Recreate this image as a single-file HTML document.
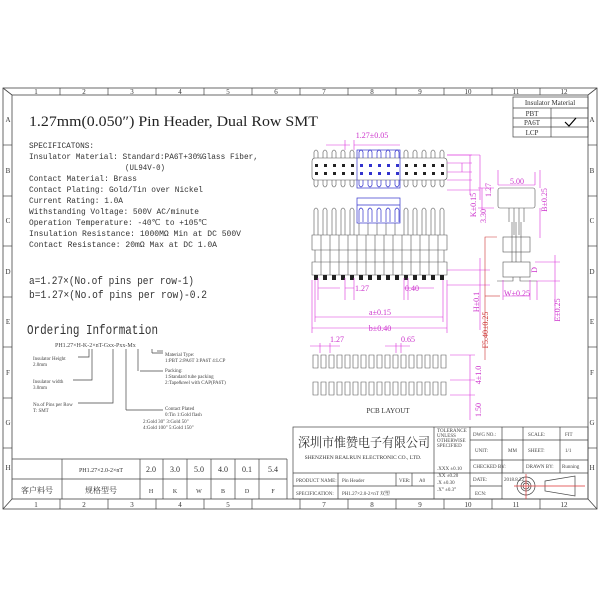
<!DOCTYPE html>
<html><head><meta charset="utf-8"><style>
html,body{margin:0;padding:0;background:#fff;}
svg{display:block;font-family:"Liberation Serif","Noto Serif CJK SC",serif;}
</style></head><body>
<svg width="600" height="600" viewBox="0 0 600 600" xmlns="http://www.w3.org/2000/svg">
<rect width="600" height="600" fill="#fff"/>
<g stroke="#444" fill="none" stroke-width="0.8">
<rect x="3" y="88" width="594" height="421"/>
<rect x="12" y="95" width="576" height="404"/>
<line x1="3" y1="88" x2="12" y2="95"/><line x1="597" y1="88" x2="588" y2="95"/>
<line x1="3" y1="509" x2="12" y2="499"/><line x1="597" y1="509" x2="588" y2="499"/>
</g>
<g stroke="#444" stroke-width="0.7">
<line x1="60" y1="88" x2="60" y2="95"/><line x1="108" y1="88" x2="108" y2="95"/><line x1="156" y1="88" x2="156" y2="95"/><line x1="204" y1="88" x2="204" y2="95"/><line x1="252" y1="88" x2="252" y2="95"/><line x1="300" y1="88" x2="300" y2="95"/><line x1="348" y1="88" x2="348" y2="95"/><line x1="396" y1="88" x2="396" y2="95"/><line x1="444" y1="88" x2="444" y2="95"/><line x1="492" y1="88" x2="492" y2="95"/><line x1="540" y1="88" x2="540" y2="95"/>
<line x1="60" y1="499" x2="60" y2="509"/><line x1="108" y1="499" x2="108" y2="509"/><line x1="156" y1="499" x2="156" y2="509"/><line x1="204" y1="499" x2="204" y2="509"/><line x1="252" y1="499" x2="252" y2="509"/><line x1="300" y1="499" x2="300" y2="509"/><line x1="348" y1="499" x2="348" y2="509"/><line x1="396" y1="499" x2="396" y2="509"/><line x1="444" y1="499" x2="444" y2="509"/><line x1="492" y1="499" x2="492" y2="509"/><line x1="540" y1="499" x2="540" y2="509"/>
<line x1="3" y1="145" x2="12" y2="145"/><line x1="3" y1="196" x2="12" y2="196"/><line x1="3" y1="246" x2="12" y2="246"/><line x1="3" y1="297" x2="12" y2="297"/><line x1="3" y1="347" x2="12" y2="347"/><line x1="3" y1="398" x2="12" y2="398"/><line x1="3" y1="448" x2="12" y2="448"/>
<line x1="588" y1="145" x2="597" y2="145"/><line x1="588" y1="196" x2="597" y2="196"/><line x1="588" y1="246" x2="597" y2="246"/><line x1="588" y1="297" x2="597" y2="297"/><line x1="588" y1="347" x2="597" y2="347"/><line x1="588" y1="398" x2="597" y2="398"/><line x1="588" y1="448" x2="597" y2="448"/>
</g>
<g font-size="7" fill="#333" text-anchor="middle">
<text x="36" y="94">1</text><text x="84" y="94">2</text><text x="132" y="94">3</text><text x="180" y="94">4</text><text x="228" y="94">5</text><text x="276" y="94">6</text><text x="324" y="94">7</text><text x="372" y="94">8</text><text x="420" y="94">9</text><text x="468" y="94">10</text><text x="516" y="94">11</text><text x="564" y="94">12</text>
<text x="36" y="507">1</text><text x="84" y="507">2</text><text x="132" y="507">3</text><text x="180" y="507">4</text><text x="228" y="507">5</text><text x="324" y="507">7</text><text x="372" y="507">8</text><text x="420" y="507">9</text><text x="468" y="507">10</text><text x="516" y="507">11</text><text x="564" y="507">12</text>
<text x="8" y="122">A</text><text x="8" y="173">B</text><text x="8" y="223">C</text><text x="8" y="274">D</text><text x="8" y="324">E</text><text x="8" y="375">F</text><text x="8" y="425">G</text><text x="8" y="470">H</text>
<text x="592" y="122">A</text><text x="592" y="173">B</text><text x="592" y="223">C</text><text x="592" y="274">D</text><text x="592" y="324">E</text><text x="592" y="375">F</text><text x="592" y="425">G</text><text x="592" y="470">H</text>
</g>
<text x="29" y="126" font-size="15" fill="#222" textLength="289" lengthAdjust="spacingAndGlyphs">1.27mm(0.050″) Pin Header, Dual Row SMT</text>
<g font-size="8.5" fill="#333" font-family="Liberation Mono, monospace">
<text x="29" y="148" textLength="65" lengthAdjust="spacingAndGlyphs">SPECIFICATONS:</text>
<text x="29" y="159" textLength="229" lengthAdjust="spacingAndGlyphs">Insulator Material: Standard:PA6T+30%Glass Fiber,</text>
<text x="125" y="170" textLength="40" lengthAdjust="spacingAndGlyphs">(UL94V-0)</text>
<text x="29" y="181" textLength="108" lengthAdjust="spacingAndGlyphs">Contact Material: Brass</text>
<text x="29" y="192" textLength="174" lengthAdjust="spacingAndGlyphs">Contact Plating: Gold/Tin over Nickel</text>
<text x="29" y="203" textLength="94" lengthAdjust="spacingAndGlyphs">Current Rating: 1.0A</text>
<text x="29" y="214" textLength="170" lengthAdjust="spacingAndGlyphs">Withstanding Voltage: 500V AC/minute</text>
<text x="29" y="225" textLength="178" lengthAdjust="spacingAndGlyphs">Operation Temperature: -40℃ to +105℃</text>
<text x="29" y="236" textLength="212" lengthAdjust="spacingAndGlyphs">Insulation Resistance: 1000MΩ Min at DC 500V</text>
<text x="29" y="247" textLength="188" lengthAdjust="spacingAndGlyphs">Contact Resistance: 20mΩ Max at DC 1.0A</text>
<text x="29" y="284" font-size="11" textLength="165" lengthAdjust="spacingAndGlyphs">a=1.27×(No.of pins per row-1)</text>
<text x="29" y="298" font-size="11" textLength="178" lengthAdjust="spacingAndGlyphs">b=1.27×(No.of pins per row)-0.2</text>
<text x="27" y="334" font-size="14" textLength="131" lengthAdjust="spacingAndGlyphs">Ordering Information</text>
</g>
<g font-size="5" fill="#444">
<text x="55" y="347" font-size="6">PH1.27×H-K-2×nT-Gxx-Pxx-Mx</text>
<text x="33" y="360">Insulator Height</text><text x="33" y="366">2.0mm</text>
<text x="33" y="383">Insulator width</text><text x="33" y="389">3.0mm</text>
<text x="33" y="406">No.of Pins per Row</text><text x="33" y="412">T: SMT</text>
<text x="165" y="356">Material Type:</text><text x="165" y="362">1:PBT 2:PA6T 3:PA6T 4:LCP</text>
<text x="165" y="372">Packing:</text><text x="165" y="378">1:Standard tube packing</text><text x="165" y="384">2:Tape&amp;reel with CAP(PA6T)</text>
<text x="165" y="410">Contact Plated</text><text x="165" y="416">0:Tin        1:Gold flash</text><text x="143" y="423">2:Gold 30"  3:Gold 50"</text><text x="143" y="429">4:Gold 100" 5:Gold 150"</text>
</g>
<g stroke="#444" fill="none" stroke-width="0.7">
<path d="M78 357 H89 V349"/><path d="M73 380 H92 V349"/><path d="M78 403 H113 V349"/><path d="M126 410 V349"/><path d="M138 371 V349"/><path d="M157 351 H163"/><path d="M140 371 H163"/><path d="M126 410 H163"/>
<path d="M152 353 V349 M152 353 H163"/>
</g>
<g stroke="#444" fill="none" stroke-width="0.7">
<rect x="513" y="97" width="75" height="40"/>
<line x1="513" y1="108" x2="588" y2="108"/><line x1="513" y1="118" x2="588" y2="118"/><line x1="513" y1="127" x2="588" y2="127"/>
<line x1="551" y1="108" x2="551" y2="137"/>
<path d="M565 122 L569 126 L576 118" stroke="#000" stroke-width="1.2"/>
</g>
<g font-size="7" fill="#333" text-anchor="middle">
<text x="550" y="105">Insulator Material</text><text x="532" y="116">PBT</text><text x="532" y="125">PA6T</text><text x="532" y="135">LCP</text>
</g>
<g stroke="#555" fill="none" stroke-width="0.6">
<rect x="312" y="158" width="135" height="22" rx="3"/>
<path d="M314 158V152Q316 148 318 152V158M323 158V152Q325 148 327 152V158M332 158V152Q334 148 336 152V158M341 158V152Q343 148 345 152V158M350 158V152Q352 148 354 152V158M404 158V152Q406 148 408 152V158M413 158V152Q415 148 417 152V158M422 158V152Q424 148 426 152V158M431 158V152Q433 148 435 152V158M440 158V152Q442 148 444 152V158"/>
<path d="M314 180V185Q316 189 318 185V180M323 180V185Q325 189 327 185V180M332 180V185Q334 189 336 185V180M341 180V185Q343 189 345 185V180M350 180V185Q352 189 354 185V180M404 180V185Q406 189 408 185V180M413 180V185Q415 189 417 185V180M422 180V185Q424 189 426 185V180M431 180V185Q433 189 435 185V180M440 180V185Q442 189 444 185V180"/>
</g>
<g stroke="#33c" fill="none" stroke-width="0.7">
<rect x="357" y="150" width="43" height="38"/>
<path d="M359 158V152Q361 148 363 152V158M368 158V152Q370 148 372 152V158M377 158V152Q379 148 381 152V158M386 158V152Q388 148 390 152V158M395 158V152Q397 148 399 152V158M359 180V185Q361 189 363 185V180M368 180V185Q370 189 372 185V180M377 180V185Q379 189 381 185V180M386 180V185Q388 189 390 185V180M395 180V185Q397 189 399 185V180"/>
</g>
<g fill="#222">
<rect x="315" y="164" width="3" height="3"/><rect x="324" y="164" width="3" height="3"/><rect x="333" y="164" width="3" height="3"/><rect x="342" y="164" width="3" height="3"/><rect x="351" y="164" width="3" height="3"/><rect x="405" y="164" width="3" height="3"/><rect x="414" y="164" width="3" height="3"/><rect x="423" y="164" width="3" height="3"/><rect x="432" y="164" width="3" height="3"/><rect x="441" y="164" width="3" height="3"/>
<rect x="315" y="172" width="3" height="3"/><rect x="324" y="172" width="3" height="3"/><rect x="333" y="172" width="3" height="3"/><rect x="342" y="172" width="3" height="3"/><rect x="351" y="172" width="3" height="3"/><rect x="405" y="172" width="3" height="3"/><rect x="414" y="172" width="3" height="3"/><rect x="423" y="172" width="3" height="3"/><rect x="432" y="172" width="3" height="3"/><rect x="441" y="172" width="3" height="3"/>
</g>
<g fill="#33c">
<rect x="360" y="164" width="3" height="3"/><rect x="369" y="164" width="3" height="3"/><rect x="378" y="164" width="3" height="3"/><rect x="387" y="164" width="3" height="3"/><rect x="396" y="164" width="3" height="3"/>
<rect x="360" y="172" width="3" height="3"/><rect x="369" y="172" width="3" height="3"/><rect x="378" y="172" width="3" height="3"/><rect x="387" y="172" width="3" height="3"/><rect x="396" y="172" width="3" height="3"/>
</g>
<g stroke="#555" fill="none" stroke-width="0.6">
<path d="M314 235V210Q316 206 318 210V235M323 235V210Q325 206 327 210V235M332 235V210Q334 206 336 210V235M341 235V210Q343 206 345 210V235M350 235V210Q352 206 354 210V235M404 235V210Q406 206 408 210V235M413 235V210Q415 206 417 210V235M422 235V210Q424 206 426 210V235M431 235V210Q433 206 435 210V235M440 235V210Q442 206 444 210V235M359 235V223M368 235V223M377 235V223M386 235V223M395 235V223"/>
<path d="M312 235h135v15h-135zM315 250h129v12h-129zM312 262h135v13h-135z"/>
<path d="M321 235v40M330 235v40M339 235v40M348 235v40M357 235v40M366 235v40M375 235v40M384 235v40M393 235v40M402 235v40M411 235v40M420 235v40M429 235v40M438 235v40"/>
</g>
<g fill="#222"><rect x="314" y="275" width="4" height="5"/><rect x="323" y="275" width="4" height="5"/><rect x="332" y="275" width="4" height="5"/><rect x="341" y="275" width="4" height="5"/><rect x="350" y="275" width="4" height="5"/><rect x="359" y="275" width="4" height="5"/><rect x="368" y="275" width="4" height="5"/><rect x="377" y="275" width="4" height="5"/><rect x="386" y="275" width="4" height="5"/><rect x="395" y="275" width="4" height="5"/><rect x="404" y="275" width="4" height="5"/><rect x="413" y="275" width="4" height="5"/><rect x="422" y="275" width="4" height="5"/><rect x="431" y="275" width="4" height="5"/><rect x="440" y="275" width="4" height="5"/></g>
<g stroke="#33c" fill="none" stroke-width="0.7">
<rect x="357" y="198" width="43" height="25"/><line x1="357" y1="205" x2="400" y2="205"/>
<path d="M359 222V210Q361 206 363 210V222M368 222V210Q370 206 372 210V222M377 222V210Q379 206 381 210V222M386 222V210Q388 206 390 210V222M395 222V210Q397 206 399 210V222"/>
</g>
<g stroke="#555" fill="none" stroke-width="0.6">
<rect x="498" y="188" width="37" height="20" rx="2"/>
<path d="M509 208V222M514 208V235M519 208V235M524 208V222M512 222V262M521 222V262M516 222V262"/>
<rect x="503" y="237" width="27" height="15"/>
<rect x="503" y="262" width="27" height="15"/>
<path d="M497 281H513V277M520 277V281H537"/>
</g>
<g stroke="#d3d" fill="none" stroke-width="0.6">
<line x1="326" y1="145" x2="350" y2="145"/><line x1="345" y1="140" x2="345" y2="150"/><line x1="354" y1="140" x2="354" y2="150"/><line x1="354" y1="145" x2="400" y2="145"/>
<path d="M447 155H472M447 180H472M447 163H472M447 172H472M470 155V195M462 163V172"/>
<path d="M447 155H480M480 155V200M447 190H480"/>
<path d="M318 278V300M345 278V300M354 278V300M404 278V300M408 278V300M345 288H354M318 288H340M404 288H434"/>
<path d="M447 270H490M447 285H490M480 258V330"/>
<path d="M315 280V322M443 280V322M315 317H443M312 280V333M447 280V333M312 328H447"/>
<path d="M498 185V170M535 185V172M498 185H535M540 188V170M540 208V238"/>
<path d="M494 188H478M494 208H478M482 188V210"/>
<path d="M503 280V300M530 280V300M503 296H530"/>
<path d="M535 262H560M537 281H560M555 255V290M537 281V300M555 281V320"/>
<path d="M320 343V353M330 343V353M310 346H340M396 343V353M401 343V353M385 346H410"/>
<path d="M450 355H475M450 395H475M470 355V400M450 380H475M470 395V420"/>
</g>
<g stroke="#c33" fill="none" stroke-width="0.6"><path d="M497 237H485V360"/><path d="M485 296H500"/></g>
<g font-size="8" fill="#c3c" text-anchor="middle">
<text x="372" y="138">1.27±0.05</text>
<text x="362" y="291">1.27</text><text x="412" y="291">0.40</text>
<text x="380" y="315">a±0.15</text><text x="380" y="331">b±0.40</text>
<text x="337" y="342">1.27</text><text x="408" y="342">0.65</text>
<text x="517" y="184">5.00</text><text x="517" y="296">W±0.25</text>
<text transform="translate(491 190) rotate(-90)">1.27</text>
<text transform="translate(476 205) rotate(-90)">K±0.15</text>
<text transform="translate(486 216) rotate(-90)">3.30</text>
<text transform="translate(547 200) rotate(-90)">B±0.25</text>
<text transform="translate(479 302) rotate(-90)">H±0.1</text>
<text transform="translate(537 270) rotate(-90)">D</text>
<text transform="translate(560 310) rotate(-90)">E±0.25</text>
<text transform="translate(481 375) rotate(-90)">4±1.0</text>
<text transform="translate(481 410) rotate(-90)">1.50</text>
</g>
<text transform="translate(488 330) rotate(-90)" font-size="8" fill="#c33" text-anchor="middle">F5.40±0.25</text>
<g stroke="#555" fill="none" stroke-width="0.6">
<path d="M313 355h5v13h-5zM321 355h5v13h-5zM329 355h5v13h-5zM337 355h5v13h-5zM345 355h5v13h-5zM353 355h5v13h-5zM361 355h5v13h-5zM369 355h5v13h-5zM377 355h5v13h-5zM385 355h5v13h-5zM393 355h5v13h-5zM401 355h5v13h-5zM409 355h5v13h-5zM417 355h5v13h-5zM425 355h5v13h-5zM433 355h5v13h-5zM441 355h5v13h-5z"/>
<path d="M313 382h5v13h-5zM321 382h5v13h-5zM329 382h5v13h-5zM337 382h5v13h-5zM345 382h5v13h-5zM353 382h5v13h-5zM361 382h5v13h-5zM369 382h5v13h-5zM377 382h5v13h-5zM385 382h5v13h-5zM393 382h5v13h-5zM401 382h5v13h-5zM409 382h5v13h-5zM417 382h5v13h-5zM425 382h5v13h-5zM433 382h5v13h-5zM441 382h5v13h-5z"/>
</g>
<text x="388" y="413" font-size="7" fill="#333" text-anchor="middle">PCB LAYOUT</text>
<g stroke="#444" fill="none" stroke-width="0.7">
<path d="M12 459H287M12 479H287M287 459V499M62 459V499M140 459V499M163 459V499M187 459V499M211 459V499M235 459V499M259 459V499"/>
</g>
<g font-size="8" fill="#333" text-anchor="middle">
<text x="101" y="472" font-size="6">PH1.27×2.0-2×nT</text>
<text x="151" y="472">2.0</text><text x="175" y="472">3.0</text><text x="199" y="472">5.0</text><text x="223" y="472">4.0</text><text x="247" y="472">0.1</text><text x="273" y="472">5.4</text>
<text x="37" y="493">客户料号</text><text x="101" y="493">规格型号</text>
<text x="151" y="493" font-size="6">H</text><text x="175" y="493" font-size="6">K</text><text x="199" y="493" font-size="6">W</text><text x="223" y="493" font-size="6">B</text><text x="247" y="493" font-size="6">D</text><text x="273" y="493" font-size="6">F</text>
</g>
<g stroke="#444" fill="none" stroke-width="0.7">
<rect x="293" y="427" width="295" height="72"/>
<path d="M434 427V499M470 427V499M502 427V473M523 427V473M560 427V473"/>
<path d="M470 440H588M470 460H588M293 473H588M293 486H434M470 486H502"/>
<path d="M338 473V499M396 473V486M412 473V486M502 460V499"/>
<circle cx="526" cy="486" r="9"/><circle cx="526" cy="486" r="5"/><circle cx="526" cy="486" r="3"/>
<path d="M545 481L575 476V496L545 491Z"/>
</g>
<g stroke="#d33" stroke-width="0.7"><path d="M514 486H585M526 474V499"/></g>
<text x="298" y="447" font-size="13" fill="#333" textLength="132" lengthAdjust="spacingAndGlyphs">深圳市惟赞电子有限公司</text>
<text x="363" y="459" font-size="5.5" fill="#333" text-anchor="middle">SHENZHEN REALRUN ELECTRONIC CO., LTD.</text>
<g font-size="5" fill="#444">
<text x="296" y="482">PRODUCT NAME:</text><text x="342" y="482">Pin Header</text><text x="399" y="482">VER:</text><text x="419" y="482">A0</text>
<text x="296" y="495">SPECIFICATION:</text><text x="342" y="495">PH1.27×2.0-2×nT 双塑</text>
<text x="437" y="432">TOLERANCE</text><text x="437" y="437">UNLESS</text><text x="437" y="442">OTHERWISE</text><text x="437" y="447">SPECIFIED</text>
<text x="437" y="470">.XXX ±0.10</text><text x="437" y="477">.XX  ±0.20</text><text x="437" y="484">.X   ±0.30</text><text x="437" y="491">.X°  ±0.3°</text>
<text x="473" y="436">DWG NO.:</text><text x="475" y="452">UNIT:</text><text x="508" y="452">MM</text>
<text x="473" y="468">CHECKED BY:</text><text x="473" y="481">DATE:</text><text x="504" y="481">2018.8.22</text><text x="475" y="495">ECN:</text>
<text x="528" y="436">SCALE:</text><text x="565" y="436">FIT</text><text x="528" y="452">SHEET:</text><text x="565" y="452">1/1</text>
<text x="526" y="468">DRAWN BY:</text><text x="562" y="468">Running</text>
</g>
</svg>
</body></html>
